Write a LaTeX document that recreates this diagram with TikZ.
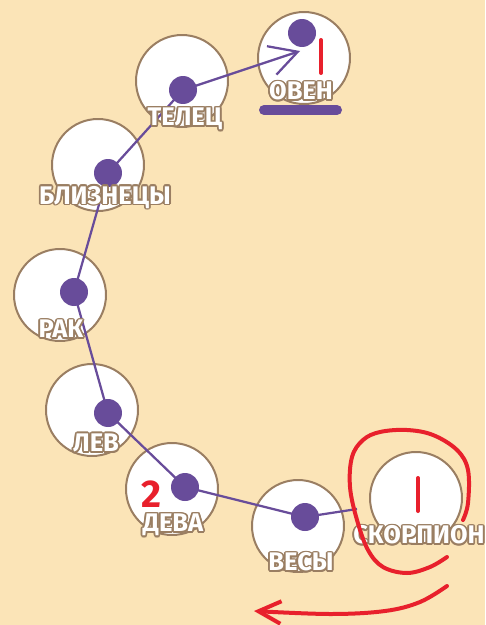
\documentclass[tikz,border=0pt]{standalone}
\usepackage{fontspec}
\usepackage[copies]{contour}
\usetikzlibrary{arrows.meta}
\newfontfamily\signfont{Fira Sans}
\definecolor{paper}{HTML}{FBE4B7}
\definecolor{rim}{HTML}{9A7E62}
\definecolor{plum}{HTML}{684C9A}
\definecolor{marker}{HTML}{E8202C}
\contourlength{1pt}
\contournumber{12}

\begin{document}
\begin{tikzpicture}[x=0.02cm,y=-0.02cm,
		sign/.style={circle,draw=rim,line width=0.04cm,fill=white,minimum size=1.84cm,inner sep=0pt},
		dot/.style={circle,fill=plum,minimum size=0.56cm,inner sep=0pt},
		link/.style={plum,line width=0.045cm},
		signtext/.style={font=\signfont\bfseries\fontsize{14.5}{14.5}\selectfont,text=white,inner sep=0pt},
		pen/.style={marker,line width=0.08cm,line cap=round,line join=round}]
		
		% the paper behind everything
		\useasboundingbox (0,0) rectangle (485,625);
		\fill[paper] (0,0) rectangle (485,625);
		
		% we draw the white circles of the signs
		\foreach \key/\x/\y in {oven/304/58,telec/182/81,bliz/98/165,rak/60/295,
			lev/92/410,deva/172/489,vesy/298/526,skorp/416/498}
		\node[sign] (\key) at (\x,\y) {};
		
		% we draw the purple dots
		\foreach \key/\x/\y in {oven/302/33,telec/183/90,bliz/108/173,rak/74/292,
			lev/108/413,deva/185/487,vesy/305/517}
		\node[dot] (\key-d) at (\x,\y) {};
		
		% we join the dots
		\coordinate (oven-tip) at (300,51);
		\coordinate (vesy-end) at (357,509);
		\foreach \a/\b in {telec/bliz,bliz/rak,rak/lev,lev/deva,deva/vesy}
		\draw[link] (\a-d.center) -- (\b-d.center);
		\draw[link] (vesy-d.center) -- (vesy-end);
		\draw[link,-{Straight Barb[length=0.55cm,width=0.6cm]}] (telec-d.center) -- (oven-tip);
		
		% we place the names
		\foreach \key/\x/\y/\txt in {oven/301/92/ОВЕН,telec/185/120/ТЕЛЕЦ,
			bliz/105/198/БЛИЗНЕЦЫ,rak/61/330/РАК,lev/96/444/ЛЕВ,deva/173/526/ДЕВА,
			vesy/301/563/ВЕСЫ,skorp/419/536/СКОРПИОН}
		\node[signtext] (\key-l) at (\x,\y) {\contour{rim}{\txt}};
		
		% the bar under the first sign
		\draw[plum,line width=0.2cm,line cap=round] (264,110) -- (337,110);
		
		% we add the red marks
		\draw[pen] (321,40) -- (321,73);
		\draw[pen] (418,478) -- (418,511);
		\node[font=\signfont\bfseries\fontsize{22}{22}\selectfont,text=marker,inner sep=0pt]
		(two) at (151,494) {2};
		\draw[pen] plot[smooth,tension=0.6] coordinates {(463,520) (468,503) (468,470)
			(457,450) (433,435) (407,430) (380,432) (363,440) (352,457) (350,487)
			(357,520) (368,550) (383,567) (407,573) (430,567) (447,557)};
		\draw[pen,-{Straight Barb[length=0.45cm,width=0.45cm]}] plot[smooth,tension=0.6]
		coordinates {(447,586) (420,602) (385,611) (330,614) (254,611)};
	\end{tikzpicture}
\end{document}
